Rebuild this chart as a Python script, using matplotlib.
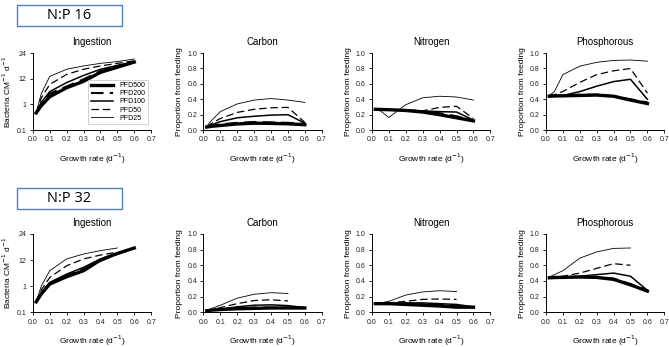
import matplotlib
matplotlib.use("Agg")
import matplotlib.pyplot as plt
from matplotlib.patches import Rectangle

plt.rcParams["font.family"] = ["Liberation Sans", "DejaVu Sans"]

growth = [0.02, 0.05, 0.1, 0.2, 0.3, 0.4, 0.5, 0.6]
series_names = ["PFD500", "PFD200", "PFD100", "PFD50", "PFD25"]
ingest_ticks = ["0.1", "1", "12", "24"]
prop_ticks = ["0.0", "0.2", "0.4", "0.6", "0.8", "1.0"]
x_ticks = ["0.0", "0.1", "0.2", "0.3", "0.4", "0.5", "0.6", "0.7"]

# ingestion is read as position on the (evenly spaced) tick scale 0.1/1/12/24
ingest_16 = [
    [0.67, 0.95, 1.30, 1.65, 1.90, 2.25, 2.45, 2.65],
    [0.67, 1.00, 1.42, 1.70, 1.98, 2.30, 2.50, 2.65],
    [0.67, 1.08, 1.50, 1.85, 2.13, 2.37, 2.52, 2.66],
    [0.67, 1.25, 1.78, 2.17, 2.37, 2.50, 2.60, 2.70],
    [0.67, 1.42, 2.09, 2.37, 2.50, 2.60, 2.67, 2.77],
]
carbon_16 = [
    [0.04, 0.05, 0.06, 0.08, 0.09, 0.087, 0.082, 0.07],
    [0.04, 0.055, 0.075, 0.095, 0.105, 0.10, 0.095, 0.08],
    [0.04, 0.07, 0.11, 0.16, 0.18, 0.195, 0.20, 0.09],
    [0.04, 0.09, 0.15, 0.23, 0.27, 0.29, 0.295, 0.10],
    [0.05, 0.13, 0.24, 0.34, 0.39, 0.41, 0.39, 0.36],
]
nitrogen_16 = [
    [0.27, 0.268, 0.265, 0.255, 0.235, 0.20, 0.16, 0.12],
    [0.27, 0.268, 0.265, 0.258, 0.245, 0.22, 0.18, 0.12],
    [0.27, 0.268, 0.265, 0.26, 0.25, 0.24, 0.235, 0.13],
    [0.27, 0.268, 0.265, 0.26, 0.25, 0.295, 0.31, 0.15],
    [0.27, 0.25, 0.165, 0.33, 0.42, 0.44, 0.43, 0.39],
]
phos_16 = [
    [0.44, 0.443, 0.445, 0.45, 0.455, 0.44, 0.39, 0.345],
    [0.44, 0.445, 0.45, 0.46, 0.46, 0.44, 0.40, 0.36],
    [0.45, 0.45, 0.45, 0.50, 0.57, 0.63, 0.66, 0.40],
    [0.45, 0.46, 0.50, 0.62, 0.72, 0.77, 0.80, 0.48],
    [0.45, 0.50, 0.72, 0.83, 0.88, 0.905, 0.91, 0.895],
]

ingest_32 = [
    [0.40, 0.70, 1.08, 1.36, 1.59, 2.00, 2.25, 2.46],
    [0.40, 0.70, 1.08, 1.40, 1.65, 1.97, 2.23, 2.46],
    [0.40, 0.75, 1.14, 1.46, 1.72, 2.04, 2.27, 2.46],
    [0.40, 0.85, 1.33, 1.78, 2.04, 2.19, 2.30],
    [0.40, 1.00, 1.59, 2.04, 2.23, 2.36, 2.46],
]
carbon_32 = [
    [0.02, 0.028, 0.035, 0.045, 0.05, 0.055, 0.055, 0.055],
    [0.02, 0.03, 0.04, 0.05, 0.06, 0.06, 0.06, 0.055],
    [0.02, 0.03, 0.04, 0.07, 0.09, 0.095, 0.085, 0.06],
    [0.02, 0.035, 0.06, 0.11, 0.15, 0.16, 0.145],
    [0.02, 0.05, 0.09, 0.18, 0.23, 0.25, 0.24],
]
nitrogen_32 = [
    [0.11, 0.11, 0.11, 0.10, 0.09, 0.08, 0.065, 0.065],
    [0.11, 0.11, 0.11, 0.105, 0.10, 0.095, 0.08, 0.065],
    [0.11, 0.112, 0.115, 0.12, 0.12, 0.11, 0.10, 0.07],
    [0.11, 0.115, 0.12, 0.14, 0.165, 0.17, 0.165],
    [0.11, 0.12, 0.14, 0.22, 0.26, 0.275, 0.265],
]
phos_32 = [
    [0.44, 0.443, 0.445, 0.45, 0.445, 0.42, 0.35, 0.27],
    [0.45, 0.45, 0.45, 0.45, 0.45, 0.43, 0.36, 0.28],
    [0.45, 0.45, 0.45, 0.46, 0.48, 0.50, 0.46, 0.28],
    [0.45, 0.455, 0.46, 0.50, 0.56, 0.62, 0.60],
    [0.45, 0.48, 0.53, 0.69, 0.77, 0.815, 0.82],
]

styles = [
    dict(color="black", lw=2.4, ls="-"),
    dict(color="black", lw=1.5, ls=(0, (6, 3))),
    dict(color="black", lw=1.1, ls="-"),
    dict(color="black", lw=0.9, ls=(0, (6, 3))),
    dict(color="black", lw=0.6, ls="-"),
]


def style_axes(ax, title, ylabel, yticklabels, ylim):
    ax.set_xlim(0, 0.7)
    ax.set_ylim(*ylim)
    ax.set_xticks([i / 10 for i in range(8)])
    ax.set_xticklabels(x_ticks)
    ax.set_yticks([ylim[0] + i * (ylim[1] - ylim[0]) / (len(yticklabels) - 1) for i in range(len(yticklabels))])
    ax.set_yticklabels(yticklabels)
    for side in ["top", "right"]:
        ax.spines[side].set_visible(False)
    for side in ["left", "bottom"]:
        ax.spines[side].set_linewidth(0.7)
    ax.tick_params(direction="out", length=2.5, width=0.7, labelsize=5, pad=2, colors="#222222")
    ax.set_title(title, fontsize=7, pad=6)
    ax.set_ylabel(ylabel, fontsize=6, labelpad=3)
    ax.set_xlabel("Growth rate (d$^{-1}$)", fontsize=6, labelpad=6)


def draw_panel(ax, data):
    for vals, st in zip(data, styles):
        ax.plot(growth[:len(vals)], vals, **st)


fig = plt.figure(figsize=(6.69, 3.47), dpi=100)

rows = [
    (0.625, 0.222, [ingest_16, carbon_16, nitrogen_16, phos_16], "N:P 16", 5),
    (0.100, 0.226, [ingest_32, carbon_32, nitrogen_32, phos_32], "N:P 32", 188),
]
lefts = [0.049, 0.304, 0.556, 0.816]
titles = ["Ingestion", "Carbon", "Nitrogen", "Phosphorous"]

for bottom, height, panels, label, box_top in rows:
    for i, (left, data, title) in enumerate(zip(lefts, panels, titles)):
        ax = fig.add_axes([left, bottom, 0.177, height])
        draw_panel(ax, data)
        if i == 0:
            style_axes(ax, title, "Bacteria CM$^{-1}$ d$^{-1}$", ingest_ticks, (0, 3))
        else:
            style_axes(ax, title, "Proportion from feeding", prop_ticks, (0, 1))
        if i == 0 and label == "N:P 16":
            leg = ax.legend(series_names, loc="lower right", fontsize=5, frameon=True,
                            fancybox=False, handlelength=3.2, labelspacing=0.15,
                            borderpad=0.4, bbox_to_anchor=(1.0, 0.03))
            leg.get_frame().set_edgecolor("#bbbbbb")
            leg.get_frame().set_linewidth(0.6)
    # label box above the row
    bx, bw = 17 / 669, 105 / 669
    bh = 21 / 347
    by = 1 - (box_top + 21) / 347
    fig.patches.append(Rectangle((bx, by), bw, bh, transform=fig.transFigure,
                                 fill=False, edgecolor="#4f7fb5", lw=1.0))
    fig.text(bx + bw / 2, by + bh / 2, label, ha="center", va="center",
             fontsize=10.5, family=["Open Sans", "DejaVu Sans"])

fig.savefig("out.png", dpi=100)
